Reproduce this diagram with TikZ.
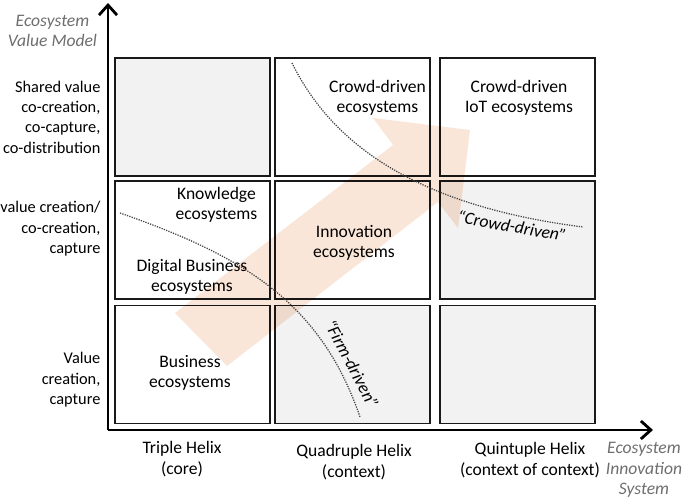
\documentclass[tikz,border=0pt]{standalone}
\usepackage{fontspec}
\setmainfont{Carlito}
\usepackage{tikz}
\usetikzlibrary{arrows.meta,positioning,calc}
\definecolor{boxgrey}{HTML}{F2F2F2}
\definecolor{peach}{HTML}{FAE6D8}
\definecolor{axisgrey}{HTML}{6E6E6E}
\newcommand{\txt}{\fontsize{10}{11.6}\selectfont}

\begin{document}
\begin{tikzpicture}[x=1.0cm, y=1cm,
  cell/.style={draw=black!90, line width=1.1pt, minimum width=3.1cm, minimum height=2.36cm, inner sep=0pt},
  lab/.style={font=\txt, align=center, inner sep=1pt},
  ylab/.style={font=\fontsize{9.3}{11.6}\selectfont, align=right, anchor=east, inner sep=1pt},
  axtitle/.style={font=\txt\itshape, text=axisgrey, align=center, inner sep=1pt},
  axisline/.style={line width=1.6pt, -{Straight Barb[length=2mm, width=3.6mm, line width=1.6pt]}},
  boundary/.style={line width=0.7pt, black!75, dash pattern=on 0.7pt off 0.7pt}]
\useasboundingbox (0,0) rectangle (13.7,9.94);

% cells of the grid
\foreach \cx/\cy/\nm/\fc in {%
  3.85/7.60/shTriple/boxgrey, 7.05/7.60/shQuad/white, 10.35/7.60/shQuint/white,
  3.85/5.14/coTriple/white, 7.05/5.14/coQuad/white, 10.35/5.14/coQuint/boxgrey,
  3.85/2.65/vTriple/white, 7.05/2.65/vQuad/boxgrey, 10.35/2.65/vQuint/boxgrey%
}{
  \node[cell, fill=\fc] (\nm) at (\cx,\cy) {};
}

% big arrow behind the text
\fill[peach, blend mode=multiply] (3.50,3.68) -- (7.86,7.04) -- (7.46,7.58) -- (9.40,7.34)
  -- (9.16,5.38) -- (8.76,5.90) -- (4.54,2.62) -- cycle;

% axes
\coordinate (origin) at (2.16,1.34);
\coordinate (ytip) at (2.16,9.88);
\coordinate (xtip) at (13.06,1.34);
\draw[axisline] (origin) -- (ytip);
\draw[axisline] (origin) -- (xtip);

\node[axtitle] (yaxis) at (1.05,9.32) {Ecosystem\\Value Model};
\node[axtitle] (xaxis) at (12.88,0.54) {Ecosystem\\Innovation\\System};

% value model levels
\node[ylab] (shared) at (2.05,7.60) {Shared value\\co-creation,\\co-capture,\\co-distribution};
\node[ylab] (cocreate) at (2.05,5.36) {value creation/\\co-creation,\\capture};
\node[ylab] (valcreate) at (2.05,2.34) {Value\\creation,\\capture};

% innovation systems
\node[lab] (triple) at (3.64,0.76) {Triple Helix\\(core)};
\node[lab] (quad) at (7.08,0.70) {Quadruple Helix\\(context)};
\node[lab] (quint) at (10.60,0.74) {Quintuple Helix\\(context of context)};

% ecosystems
\node[lab] (crowd) at (7.55,7.98) {Crowd-driven\\ecosystems};
\node[lab] (crowdiot) at (10.38,7.98) {Crowd-driven\\IoT ecosystems};
\node[lab] (knowledge) at (4.33,5.84) {Knowledge\\ecosystems};
\node[lab] (digital) at (3.84,4.40) {Digital Business\\ecosystems};
\node[lab] (innovation) at (7.08,5.08) {Innovation\\ecosystems};
\node[lab] (business) at (3.80,2.48) {Business\\ecosystems};

% firm / crowd boundaries
\coordinate (firmA) at (2.40,5.68);
\coordinate (firmB) at (7.20,1.60);
\draw[boundary] (firmA) .. controls (4.80,4.84) and (6.40,3.94) .. (firmB);
\coordinate (crowdA) at (5.84,8.68);
\coordinate (crowdB) at (11.66,5.40);
\draw[boundary] (crowdA) .. controls (6.60,7.14) and (8.20,5.84) .. (crowdB);

\node[lab, font=\txt\itshape, rotate=-62] (firmlab) at (7.04,2.66) {``Firm-driven''};
\node[lab, font=\txt\itshape, rotate=-10] (crowdlab) at (10.24,5.42) {``Crowd-driven''};
\end{tikzpicture}
\end{document}
